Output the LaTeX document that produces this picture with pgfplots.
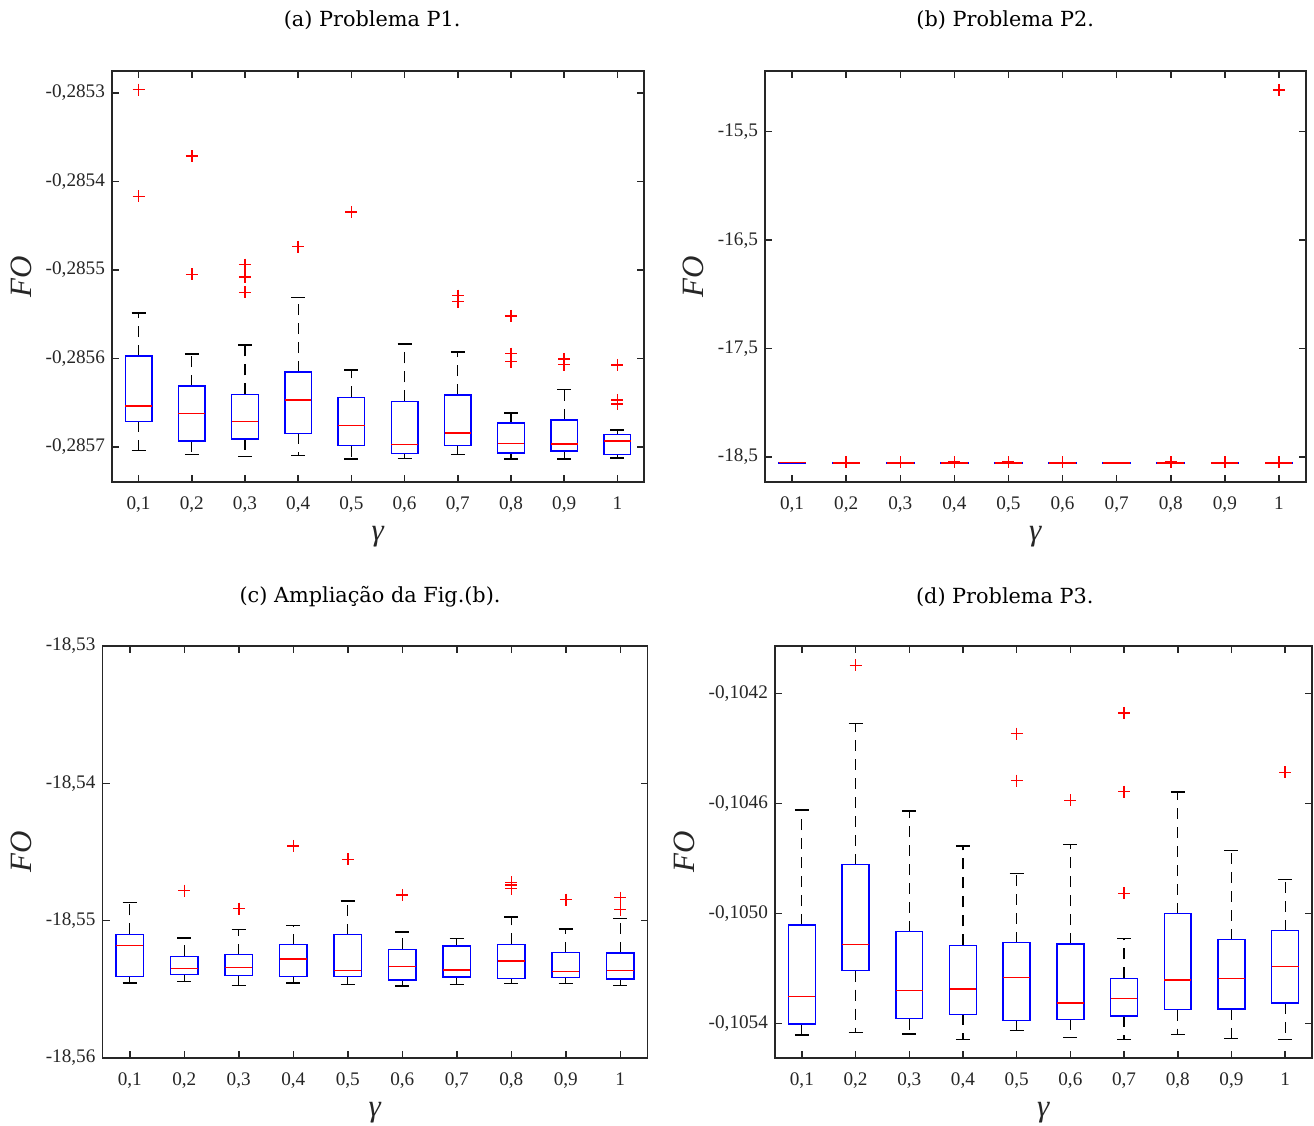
\documentclass[border=0pt]{standalone}
\usepackage{pgfplots}
\pgfplotsset{compat=1.18}
\usepgfplotslibrary{statistics}
\usepackage{fontspec}
\setmainfont{Liberation Serif}
\newfontfamily\titlefont{DejaVu Serif}
\definecolor{axgray}{RGB}{38,38,38}
\definecolor{mblue}{RGB}{0,0,255}
\definecolor{mred}{RGB}{255,0,0}

\pgfplotsset{
  boxplot/draw/lower whisker/.code={%
    \draw[black, line width=0.6pt, dash pattern=on 5.5pt off 4pt]
      (boxplot box cs:\pgfplotsboxplotvalue{lower quartile},0.5)
      -- (boxplot box cs:\pgfplotsboxplotvalue{lower whisker},0.5);
    \draw[black, line width=0.75pt]
      (boxplot whisker cs:\pgfplotsboxplotvalue{lower whisker},0)
      -- (boxplot whisker cs:\pgfplotsboxplotvalue{lower whisker},1);
  },
  boxplot/draw/upper whisker/.code={%
    \draw[black, line width=0.6pt, dash pattern=on 5.5pt off 4pt]
      (boxplot box cs:\pgfplotsboxplotvalue{upper quartile},0.5)
      -- (boxplot box cs:\pgfplotsboxplotvalue{upper whisker},0.5);
    \draw[black, line width=0.75pt]
      (boxplot whisker cs:\pgfplotsboxplotvalue{upper whisker},0)
      -- (boxplot whisker cs:\pgfplotsboxplotvalue{upper whisker},1);
  },
  mlbox/.style={
    scale only axis, anchor=south west,
    xmin=0.5, xmax=10.5, xtick={1,...,10},
    xticklabels={{0,1},{0,2},{0,3},{0,4},{0,5},{0,6},{0,7},{0,8},{0,9},{1}},
    tick align=inside, major tick length=3.5pt,
    axis line style={axgray, line width=0.75pt},
    tick style={axgray, line width=0.75pt},
    tick label style={font=\fontsize{9.6}{11}\selectfont, text=axgray},
    xticklabel style={yshift=-4pt},
    xlabel={\textit{γ}}, ylabel={\textit{FO}},
    label style={font=\fontsize{15.5}{18}\selectfont, text=axgray},
    title style={font=\titlefont\fontsize{10.4}{12}\selectfont, anchor=center},
    boxplot/draw direction=y,
    boxplot/box extend=0.5, boxplot/whisker extend=0.26,
    boxplot/every median/.style={mred, line width=0.75pt},
  },
  bp/.style={mblue, line width=0.75pt, mark=+, mark size=3pt,
    mark options={mred, solid, line width=0.75pt}},
}
% #1 position, #2 lower whisker, #3 Q1, #4 median, #5 Q3, #6 upper whisker, #7 outliers
\newcommand{\bx}[7]{\addplot[bp, boxplot prepared={draw position=#1,
  lower whisker=#2, lower quartile=#3, median=#4, upper quartile=#5, upper whisker=#6}]
  coordinates {#7};}

\begin{document}
\begin{tikzpicture}
\useasboundingbox (0,0) rectangle (657pt,-563pt);

% (a) values given as (FO + 0.2855)*10000
\begin{axis}[mlbox, at={(56pt,-241pt)}, width=266pt, height=205.5pt,
  title={(a) Problema P1.}, title style={at={(0.489,1)}, yshift=19.5pt},
  ymin=-2.395, ymax=2.248,
  ytick={-2,-1,0,1,2},
  yticklabels={{-0,2857},{-0,2856},{-0,2855},{-0,2854},{-0,2853}}]
  \bx{1}{-2.04}{-1.71}{-1.534}{-0.974}{-0.485}{(0,2.038) (0,0.831)}
  \bx{2}{-2.086}{-1.932}{-1.62}{-1.312}{-0.947}{(0,1.286) (0,-0.049)}
  \bx{3}{-2.105}{-1.91}{-1.714}{-1.406}{-0.85}{(0,0.06) (0,-0.079) (0,-0.252)}
  \bx{4}{-2.094}{-1.846}{-1.466}{-1.154}{-0.308}{(0,0.263)}
  \bx{5}{-2.135}{-1.985}{-1.759}{-1.44}{-1.132}{(0,0.658)}
  \bx{6}{-2.132}{-2.075}{-1.974}{-1.485}{-0.835}{}
  \bx{7}{-2.083}{-1.985}{-1.842}{-1.414}{-0.929}{(0,-0.29) (0,-0.357)}
  \bx{8}{-2.135}{-2.068}{-1.959}{-1.726}{-1.617}{(0,-0.519) (0,-0.944) (0,-1.034)}
  \bx{9}{-2.135}{-2.045}{-1.966}{-1.692}{-1.35}{(0,-1.004) (0,-1.068)}
  \bx{10}{-2.124}{-2.086}{-1.929}{-1.857}{-1.808}{(0,-1.071) (0,-1.466) (0,-1.511)}
\end{axis}

% (b) values given as FO + 18.5
\begin{axis}[mlbox, at={(382.5pt,-241pt)}, width=270.5pt, height=205.5pt,
  title={(b) Problema P2.}, title style={at={(0.444,1)}, yshift=19.5pt},
  ymin=-0.23, ymax=3.56,
  ytick={0,1,2,3},
  yticklabels={{-18,5},{-17,5},{-16,5},{-15,5}}]
  \bx{1}{-0.05454}{-0.05405}{-0.05182}{-0.051}{-0.04869}{}
  \bx{2}{-0.05442}{-0.05393}{-0.0535}{-0.0526}{-0.05126}{(0,-0.04782)}
  \bx{3}{-0.05473}{-0.054}{-0.0534}{-0.05248}{-0.05066}{(0,-0.04913)}
  \bx{4}{-0.05454}{-0.05408}{-0.05279}{-0.05175}{-0.05036}{(0,-0.04456)}
  \bx{5}{-0.05466}{-0.05408}{-0.05362}{-0.05102}{-0.04857}{(0,-0.04553)}
  \bx{6}{-0.05476}{-0.05432}{-0.05335}{-0.05209}{-0.05083}{(0,-0.04813)}
  \bx{7}{-0.05466}{-0.0541}{-0.05359}{-0.05184}{-0.05131}{}
  \bx{8}{-0.05459}{-0.05422}{-0.05294}{-0.05172}{-0.04973}{(0,-0.04721) (0,-0.0474) (0,-0.04767)}
  \bx{9}{-0.05459}{-0.05415}{-0.05371}{-0.05233}{-0.05061}{(0,-0.04847)}
  \bx{10}{-0.05471}{-0.05425}{-0.05362}{-0.05235}{-0.04985}{(0,-0.04833) (0,-0.0492) (0,3.387)}
\end{axis}

% (c) values given as (FO + 18.545)*100
\begin{axis}[mlbox, at={(51.25pt,-529pt)}, width=272.5pt, height=206pt,
  title={(c) Ampliação da Fig.(b).}, title style={at={(0.491,1)}, yshift=18.5pt},
  ymin=-1.5, ymax=1.5,
  ytick={-1.5,-0.5,0.5,1.5},
  yticklabels={{-18,56},{-18,55},{-18,54},{-18,53}}]
  \bx{1}{-0.954}{-0.905}{-0.682}{-0.6}{-0.369}{}
  \bx{2}{-0.942}{-0.893}{-0.85}{-0.76}{-0.626}{(0,-0.282)}
  \bx{3}{-0.973}{-0.9}{-0.84}{-0.748}{-0.566}{(0,-0.413)}
  \bx{4}{-0.954}{-0.908}{-0.779}{-0.675}{-0.536}{(0,0.044)}
  \bx{5}{-0.966}{-0.908}{-0.862}{-0.602}{-0.357}{(0,-0.053)}
  \bx{6}{-0.976}{-0.932}{-0.835}{-0.709}{-0.583}{(0,-0.313)}
  \bx{7}{-0.966}{-0.91}{-0.859}{-0.684}{-0.631}{}
  \bx{8}{-0.959}{-0.922}{-0.794}{-0.672}{-0.473}{(0,-0.221) (0,-0.24) (0,-0.267)}
  \bx{9}{-0.959}{-0.915}{-0.871}{-0.733}{-0.561}{(0,-0.347)}
  \bx{10}{-0.971}{-0.925}{-0.862}{-0.735}{-0.485}{(0,-0.333) (0,-0.42)}
\end{axis}

% (d) values given as (FO + 0.1048)*10000
\begin{axis}[mlbox, at={(387.5pt,-529pt)}, width=268.5pt, height=206pt,
  title={(d) Problema P3.}, title style={at={(0.428,1)}, yshift=18.5pt},
  ymin=-7.248, ymax=7.733,
  ytick={-6,-2,2,6},
  yticklabels={{-0,1054},{-0,1050},{-0,1046},{-0,1042}}]
  \bx{1}{-6.412}{-6.012}{-5.006}{-2.412}{1.77}{}
  \bx{2}{-6.315}{-4.073}{-3.115}{-0.218}{4.921}{(0,7.03)}
  \bx{3}{-6.376}{-5.818}{-4.8}{-2.655}{1.733}{}
  \bx{4}{-6.57}{-5.661}{-4.739}{-3.152}{0.461}{}
  \bx{5}{-6.255}{-5.891}{-4.327}{-3.055}{-0.545}{(0,4.545) (0,2.836)}
  \bx{6}{-6.509}{-5.842}{-5.248}{-3.103}{0.509}{(0,2.121)}
  \bx{7}{-6.57}{-5.721}{-5.091}{-4.352}{-2.897}{(0,5.297) (0,2.436) (0,-1.261)}
  \bx{8}{-6.388}{-5.491}{-4.412}{-2.0}{2.424}{}
  \bx{9}{-6.545}{-5.467}{-4.352}{-2.945}{0.291}{}
  \bx{10}{-6.57}{-5.248}{-3.927}{-2.618}{-0.764}{(0,3.139)}
\end{axis}
\end{tikzpicture}
\end{document}
